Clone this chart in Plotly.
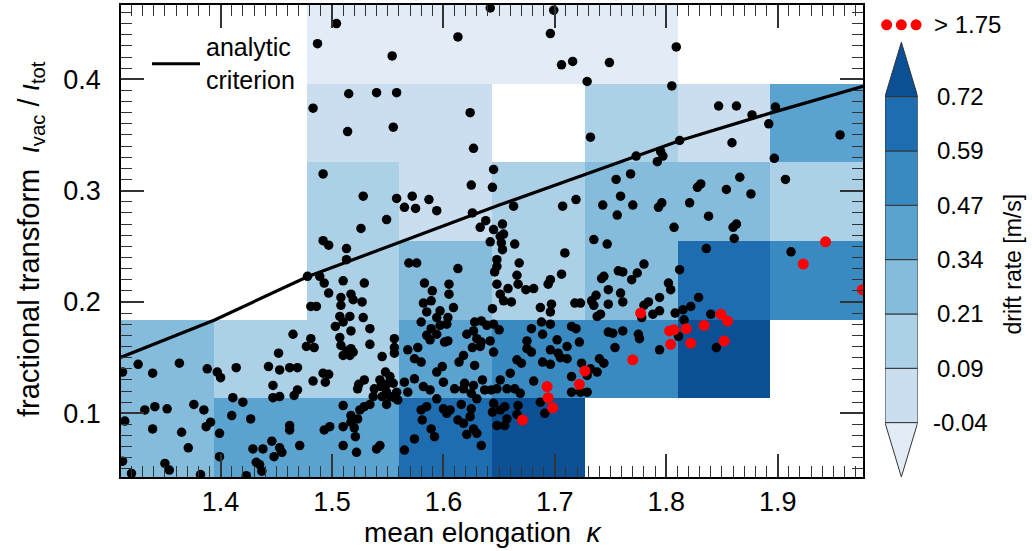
import numpy as np
import plotly.graph_objects as go

# ---------------- data ----------------
# bin edges of the drift-rate map
kappa_edges = [1.3106, 1.3939, 1.4771, 1.5604, 1.6436, 1.7269, 1.8101, 1.8934, 1.9766]
iota_edges = [0.0428, 0.1135, 0.1841, 0.2548, 0.3254, 0.3961, 0.4667]

nan = float("nan")
# mean drift rate [m/s] per bin, rows from bottom (low iota) to top
drift_row0 = [0.28, 0.40, 0.40, 0.65, 0.85, nan, nan, nan]
drift_row1 = [0.28, 0.15, 0.15, 0.40, 0.53, 0.53, 0.85, nan]
drift_row2 = [nan, nan, 0.15, 0.28, 0.15, 0.28, 0.65, 0.53]
drift_row3 = [nan, nan, 0.15, 0.03, 0.15, 0.28, 0.28, 0.15]
drift_row4 = [nan, nan, 0.03, 0.03, nan, 0.15, 0.03, 0.40]
drift_row5 = [nan, nan, -0.10, -0.10, -0.10, -0.10, nan, nan]

levels = [-0.04, 0.09, 0.21, 0.34, 0.47, 0.59, 0.72]
level_colors = ["#e1ecf7", "#cbdef0", "#acd0e6", "#85bcdc",
                "#5aa2cf", "#3a8ac2", "#1f6db1", "#0b4f95"]
red_threshold = 1.75

# analytic criterion
kappa_crit = [1.3102, 1.3946, 1.4779, 1.5608, 1.6507, 1.7277, 1.8124, 1.8941, 1.9768]
iota_crit = [0.1502, 0.1838, 0.2227, 0.2536, 0.2872, 0.3147, 0.3451, 0.3698, 0.3937]

# configurations with drift rate > 1.75 m/s
kappa_red = [1.671, 1.693, 1.694, 1.698, 1.722, 1.727, 1.770, 1.777, 1.803, 1.807,
             1.804, 1.818, 1.822, 1.834, 1.849, 1.855, 1.852, 1.923, 1.943, 1.976]
iota_red = [0.094, 0.124, 0.114, 0.105, 0.126, 0.138, 0.148, 0.190, 0.174, 0.175,
            0.162, 0.176, 0.163, 0.179, 0.189, 0.183, 0.165, 0.234, 0.254, 0.211]

# all other configurations
black_pts = [
    # upper region
    (1.504, 0.450), (1.487, 0.432), (1.613, 0.438), (1.554, 0.421), (1.642, 0.464),
    (1.515, 0.387), (1.540, 0.388), (1.558, 0.388), (1.483, 0.374), (1.624, 0.370),
    (1.514, 0.353), (1.555, 0.357), (1.627, 0.338),
    (1.699, 0.462), (1.696, 0.441), (1.706, 0.413), (1.716, 0.416), (1.749, 0.415),
    (1.729, 0.398), (1.809, 0.429), (1.805, 0.394), (1.847, 0.376), (1.863, 0.376),
    (1.877, 0.368), (1.898, 0.375), (1.892, 0.360), (1.956, 0.350), (1.732, 0.348),
    (1.812, 0.345), (1.859, 0.343),
    # middle-left
    (1.645, 0.319), (1.625, 0.305), (1.644, 0.303), (1.492, 0.315), (1.528, 0.295),
    (1.558, 0.293), (1.572, 0.295), (1.565, 0.285), (1.575, 0.284), (1.587, 0.292),
    (1.594, 0.282), (1.549, 0.274), (1.526, 0.266), (1.626, 0.280), (1.638, 0.273),
    (1.633, 0.267), (1.645, 0.265), (1.492, 0.255), (1.497, 0.251), (1.513, 0.248),
    (1.513, 0.238), (1.569, 0.235), (1.576, 0.235), (1.613, 0.230), (1.478, 0.223),
    (1.489, 0.223), (1.493, 0.217), (1.510, 0.219), (1.529, 0.217), (1.583, 0.217),
    (1.590, 0.210), (1.605, 0.216), (1.605, 0.207), (1.497, 0.208), (1.508, 0.204),
    (1.517, 0.207), (1.519, 0.202), (1.527, 0.200), (1.508, 0.197), (1.481, 0.196),
    (1.486, 0.196), (1.582, 0.199), (1.589, 0.201), (1.585, 0.191), (1.597, 0.192),
    (1.609, 0.195), (1.594, 0.186), (1.604, 0.186),
    (1.642, 0.254), (1.651, 0.259), (1.654, 0.261), (1.652, 0.253), (1.648, 0.238),
    (1.648, 0.232), (1.646, 0.227), (1.648, 0.216), (1.651, 0.207), (1.654, 0.201),
    (1.644, 0.194),
    # middle-right
    (1.773, 0.331), (1.795, 0.335), (1.797, 0.331), (1.792, 0.326), (1.768, 0.315),
    (1.755, 0.310), (1.759, 0.295), (1.743, 0.287), (1.770, 0.287), (1.756, 0.278),
    (1.793, 0.285), (1.796, 0.289), (1.821, 0.289), (1.807, 0.267), (1.663, 0.286),
    (1.707, 0.286), (1.719, 0.292), (1.735, 0.256), (1.747, 0.252), (1.653, 0.270),
    (1.664, 0.252), (1.653, 0.247), (1.709, 0.244), (1.668, 0.235), (1.666, 0.224),
    (1.706, 0.225), (1.696, 0.220), (1.694, 0.216), (1.667, 0.216), (1.658, 0.212),
    (1.674, 0.211), (1.681, 0.212), (1.661, 0.200), (1.687, 0.195), (1.697, 0.198),
    (1.696, 0.191), (1.718, 0.199), (1.723, 0.199), (1.733, 0.201), (1.737, 0.206),
    (1.735, 0.197), (1.742, 0.221), (1.744, 0.223), (1.748, 0.211), (1.757, 0.228),
    (1.761, 0.227), (1.769, 0.220), (1.774, 0.226), (1.780, 0.234), (1.759, 0.208),
    (1.761, 0.200), (1.748, 0.198), (1.741, 0.189), (1.784, 0.200), (1.780, 0.197),
    (1.794, 0.204), (1.802, 0.217), (1.804, 0.211), (1.812, 0.229), (1.808, 0.190),
    (1.815, 0.193), (1.822, 0.196), (1.816, 0.184), (1.778, 0.186), (1.788, 0.189),
    (1.794, 0.192),
    (1.897, 0.329), (1.907, 0.310), (1.866, 0.312), (1.828, 0.303), (1.831, 0.306),
    (1.854, 0.301), (1.876, 0.297), (1.838, 0.277), (1.860, 0.267), (1.863, 0.270),
    (1.861, 0.257), (1.836, 0.248), (1.912, 0.245), (1.829, 0.204), (1.840, 0.189),
    (1.845, 0.159),
    # lower-left
    (1.312, 0.137), (1.326, 0.144), (1.339, 0.136), (1.363, 0.145), (1.388, 0.140),
    (1.397, 0.137), (1.400, 0.132), (1.414, 0.141), (1.443, 0.142), (1.452, 0.154),
    (1.465, 0.171), (1.453, 0.139), (1.462, 0.141), (1.469, 0.141), (1.447, 0.125),
    (1.469, 0.121), (1.466, 0.116), (1.447, 0.114), (1.453, 0.115), (1.411, 0.114),
    (1.420, 0.110), (1.332, 0.103), (1.341, 0.106), (1.352, 0.104), (1.376, 0.108),
    (1.385, 0.103), (1.410, 0.098), (1.427, 0.095), (1.314, 0.093), (1.339, 0.086),
    (1.365, 0.083), (1.371, 0.069), (1.387, 0.088), (1.391, 0.092), (1.399, 0.082),
    (1.399, 0.061), (1.462, 0.089), (1.462, 0.085), (1.446, 0.075), (1.471, 0.071),
    (1.429, 0.068), (1.438, 0.068), (1.453, 0.069), (1.455, 0.065), (1.448, 0.061),
    (1.432, 0.056), (1.435, 0.054), (1.437, 0.048), (1.423, 0.044), (1.312, 0.057),
    (1.320, 0.046), (1.350, 0.055), (1.354, 0.049), (1.382, 0.045),
    # lower-middle
    (1.507, 0.187), (1.516, 0.187), (1.528, 0.186), (1.503, 0.178), (1.510, 0.182),
    (1.517, 0.174), (1.534, 0.176), (1.507, 0.168), (1.481, 0.167), (1.477, 0.160),
    (1.484, 0.159), (1.508, 0.161), (1.513, 0.156), (1.517, 0.158), (1.510, 0.152),
    (1.516, 0.152), (1.519, 0.155), (1.534, 0.162), (1.556, 0.167), (1.556, 0.159),
    (1.556, 0.154), (1.545, 0.151), (1.492, 0.136), (1.497, 0.135), (1.494, 0.128),
    (1.483, 0.129), (1.524, 0.126), (1.529, 0.130), (1.523, 0.122),
    (1.548, 0.137), (1.552, 0.133), (1.543, 0.130), (1.538, 0.122), (1.544, 0.124),
    (1.549, 0.126), (1.555, 0.127), (1.558, 0.119), (1.549, 0.119), (1.545, 0.115),
    (1.552, 0.115), (1.556, 0.114), (1.559, 0.112), (1.537, 0.115), (1.534, 0.108),
    (1.549, 0.108), (1.529, 0.106),
    (1.510, 0.107), (1.525, 0.103), (1.517, 0.098), (1.523, 0.095), (1.517, 0.092),
    (1.510, 0.088), (1.520, 0.087), (1.493, 0.085), (1.498, 0.088), (1.521, 0.079),
    (1.510, 0.071), (1.522, 0.065), (1.543, 0.071), (1.540, 0.068), (1.565, 0.067),
    (1.580, 0.182), (1.589, 0.176), (1.597, 0.179), (1.603, 0.180), (1.585, 0.170),
    (1.588, 0.166), (1.594, 0.171), (1.601, 0.164), (1.604, 0.165), (1.621, 0.171),
    (1.628, 0.182), (1.634, 0.183), (1.639, 0.179), (1.645, 0.180), (1.627, 0.174),
    (1.630, 0.167), (1.634, 0.164), (1.642, 0.165), (1.626, 0.159), (1.633, 0.160),
    (1.645, 0.155), (1.568, 0.157), (1.577, 0.159), (1.574, 0.149), (1.580, 0.146),
    (1.594, 0.137), (1.599, 0.142), (1.614, 0.146), (1.618, 0.152), (1.628, 0.143),
    (1.600, 0.128), (1.574, 0.131), (1.565, 0.128), (1.568, 0.119), (1.582, 0.124),
    (1.588, 0.121), (1.594, 0.113), (1.610, 0.122), (1.619, 0.127), (1.618, 0.122),
    (1.627, 0.125), (1.625, 0.118), (1.630, 0.113), (1.635, 0.130), (1.637, 0.121),
    (1.643, 0.121), (1.648, 0.122), (1.645, 0.109), (1.616, 0.108), (1.625, 0.104),
    (1.624, 0.097), (1.618, 0.091), (1.613, 0.094), (1.585, 0.106), (1.580, 0.103),
    (1.581, 0.094), (1.589, 0.086), (1.592, 0.079), (1.574, 0.077), (1.600, 0.104),
    (1.606, 0.103), (1.603, 0.100), (1.634, 0.071), (1.630, 0.082), (1.627, 0.086),
    (1.621, 0.081), (1.644, 0.101), (1.648, 0.089),
    # lower-right
    (1.696, 0.180), (1.688, 0.182), (1.679, 0.176), (1.689, 0.171), (1.715, 0.178),
    (1.719, 0.176), (1.738, 0.187), (1.748, 0.173), (1.752, 0.172), (1.761, 0.174),
    (1.775, 0.171), (1.776, 0.167), (1.811, 0.169), (1.794, 0.157), (1.754, 0.159),
    (1.675, 0.165), (1.675, 0.158), (1.679, 0.155), (1.702, 0.166), (1.696, 0.157),
    (1.703, 0.154), (1.705, 0.150), (1.711, 0.160), (1.711, 0.149), (1.722, 0.164),
    (1.689, 0.146), (1.696, 0.144), (1.666, 0.148), (1.670, 0.145), (1.660, 0.136),
    (1.651, 0.130), (1.681, 0.129), (1.724, 0.145), (1.732, 0.140), (1.738, 0.137),
    (1.740, 0.149), (1.744, 0.145), (1.729, 0.134), (1.715, 0.133), (1.657, 0.122),
    (1.664, 0.122), (1.669, 0.118), (1.715, 0.119), (1.723, 0.119), (1.729, 0.119),
    (1.687, 0.110), (1.691, 0.100), (1.667, 0.107), (1.655, 0.106), (1.651, 0.103),
    (1.666, 0.099), (1.657, 0.095), (1.655, 0.089), (1.650, 0.175),
]
kappa_black = [p[0] for p in black_pts]
iota_black = [p[1] for p in black_pts]

legend_label = "analytic<br>criterion"

# ---------------- figure ----------------
FONT = "Liberation Sans, Arial, Helvetica, sans-serif"
W, H = 1032, 551
ML, MR, MT, MB = 121, 5, 3, 74
pw = W - ML - MR
ph = H - MT - MB
main_dom = (863 - ML) / pw


def px2paper_x(px):
    return (px - ML) / pw


def px2paper_y(py):
    return (H - MB - py) / ph


# colour-bar sub-axes geometry
CB_XDOM = [px2paper_x(885), px2paper_x(917.7)]
CB_XRANGE = [0, 1]
CB_YDOM = [0, px2paper_y(13.1)]
CB_YRANGE = [-1, 7.5]


def cb_px(u):
    return CB_XDOM[0] + (u - CB_XRANGE[0]) / (CB_XRANGE[1] - CB_XRANGE[0]) * (CB_XDOM[1] - CB_XDOM[0])


def cb_py(v):
    return CB_YDOM[0] + (v - CB_YRANGE[0]) / (CB_YRANGE[1] - CB_YRANGE[0]) * (CB_YDOM[1] - CB_YDOM[0])


drift = np.array([drift_row0, drift_row1, drift_row2, drift_row3, drift_row4, drift_row5])
cls = np.where(np.isnan(drift), np.nan, np.digitize(np.nan_to_num(drift), levels)).astype(float)
ncls = len(level_colors)
cscale = []
for k, c in enumerate(level_colors):
    cscale.append([k / ncls, c])
    cscale.append([(k + 1) / ncls, c])

fig = go.Figure()
fig.add_trace(go.Heatmap(
    x=kappa_edges, y=iota_edges, z=cls, zmin=-0.5, zmax=ncls - 0.5,
    colorscale=cscale, showscale=False, hoverinfo="skip", xaxis="x", yaxis="y"))

fig.add_trace(go.Scatter(
    x=kappa_crit, y=iota_crit, mode="lines", line=dict(color="black", width=3.2),
    name="analytic criterion", showlegend=False))

fig.add_trace(go.Scatter(
    x=kappa_black, y=iota_black, mode="markers",
    marker=dict(color="black", size=9.5, line=dict(width=0)), showlegend=False))

fig.add_trace(go.Scatter(
    x=kappa_red, y=iota_red, mode="markers",
    marker=dict(color="#ff0000", size=11, line=dict(width=0)), showlegend=False))

# ---- colour bar built on its own small axes ----
nlev = len(levels)
for i in range(nlev - 1):
    fig.add_trace(go.Scatter(
        x=[0, 1, 1, 0, 0], y=[i, i, i + 1, i + 1, i], mode="lines", fill="toself",
        fillcolor=level_colors[i + 1], line=dict(color="#333333", width=1),
        xaxis="x2", yaxis="y2", showlegend=False, hoverinfo="skip"))
fig.add_trace(go.Scatter(
    x=[0, 1, 0.5, 0], y=[0, 0, -1, 0], mode="lines", fill="toself",
    fillcolor=level_colors[0], line=dict(color="#333333", width=1),
    xaxis="x2", yaxis="y2", showlegend=False, hoverinfo="skip"))
fig.add_trace(go.Scatter(
    x=[0, 1, 0.5, 0], y=[nlev - 1, nlev - 1, nlev, nlev - 1], mode="lines", fill="toself",
    fillcolor=level_colors[-1], line=dict(color="#333333", width=1),
    xaxis="x2", yaxis="y2", showlegend=False, hoverinfo="skip"))
fig.add_trace(go.Scatter(
    x=[0.05, 0.5, 0.95], y=[nlev + 0.32] * 3, mode="markers", cliponaxis=False,
    marker=dict(color="#ff0000", size=11), xaxis="x2", yaxis="y2",
    showlegend=False, hoverinfo="skip"))

CBF = dict(size=24, family=FONT, color="black")
annotations = []
for i, lv in enumerate(levels):
    annotations.append(dict(x=cb_px(2.3), y=cb_py(i), xref="paper", yref="paper",
                            text=f"{lv:.2f}", showarrow=False,
                            xanchor="center", yanchor="middle", font=CBF))
annotations.append(dict(x=cb_px(1.45), y=cb_py(nlev + 0.32), xref="paper", yref="paper",
                        text=f"> {red_threshold:.2f}", showarrow=False,
                        xanchor="left", yanchor="middle", font=CBF))
annotations.append(dict(x=cb_px(3.9), y=cb_py(2.92), xref="paper", yref="paper",
                        text="drift rate [m/s]", textangle=-90, showarrow=False,
                        xanchor="center", yanchor="middle",
                        font=dict(size=23, family=FONT, color="black")))
annotations.append(dict(x=px2paper_x(483), y=px2paper_y(533), xref="paper", yref="paper",
                        text="mean elongation  <i>κ</i>", showarrow=False,
                        xanchor="center", yanchor="middle",
                        font=dict(size=28, family=FONT, color="black")))
annotations.append(dict(x=px2paper_x(31), y=px2paper_y(238), xref="paper", yref="paper",
                        text="fractional transform  <i>ι</i><sub>vac</sub> / <i>ι</i><sub>tot</sub>",
                        textangle=-90, showarrow=False, xanchor="center", yanchor="middle",
                        font=dict(size=29, family=FONT, color="black")))
# legend text for the analytic criterion line
annotations.append(dict(x=px2paper_x(204), y=px2paper_y(62), xref="paper", yref="paper",
                        text=legend_label, showarrow=False, xanchor="left", align="left",
                        yanchor="middle", font=dict(size=25, family=FONT, color="black")))

shapes = [dict(type="line", xref="paper", yref="paper",
               x0=px2paper_x(152), x1=px2paper_x(200),
               y0=px2paper_y(62), y1=px2paper_y(62),
               line=dict(color="black", width=3.2))]

tick_common = dict(ticks="inside", ticklen=23, tickwidth=1.5, tickcolor="#333333",
                   showline=True, linecolor="black", linewidth=1.5, mirror="ticks",
                   showgrid=False, zeroline=False, dtick=0.1, tick0=0, tickformat=".1f",
                   tickfont=dict(size=27, family=FONT, color="black"),
                   minor=dict(dtick=0.01, ticks="inside", ticklen=11, tickwidth=1.2,
                              tickcolor="#333333", showgrid=False))

fig.update_layout(
    width=W, height=H, margin=dict(l=ML, r=MR, t=MT, b=MB),
    paper_bgcolor="white", plot_bgcolor="white",
    font=dict(family=FONT, size=23, color="black"),
    xaxis=dict(domain=[0, main_dom], range=[1.3106, 1.9766], anchor="y",
               ticklabelstandoff=0, **tick_common),
    yaxis=dict(domain=[0, 1], range=[0.0428, 0.4667], anchor="x",
               ticklabelstandoff=13, **tick_common),
    xaxis2=dict(domain=CB_XDOM, range=CB_XRANGE, visible=False, anchor="y2"),
    yaxis2=dict(domain=CB_YDOM, range=CB_YRANGE, visible=False, anchor="x2"),
    showlegend=False,
    annotations=annotations,
    shapes=shapes,
)

fig.write_html("out.html")
